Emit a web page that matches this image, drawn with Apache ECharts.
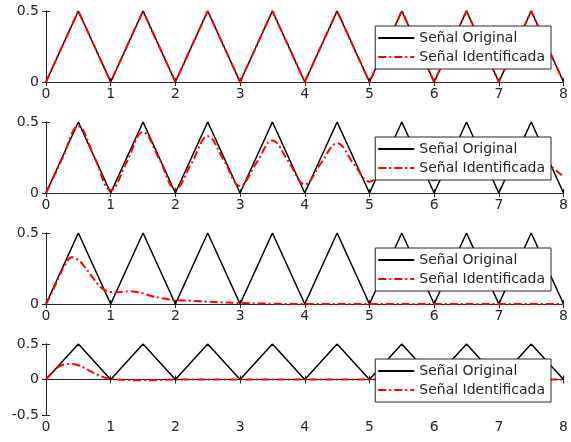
<!DOCTYPE html>
<html>
<head>
<meta charset="utf-8">
<script src="https://cdn.jsdelivr.net/npm/echarts@6/dist/echarts.min.js"></script>
<style>
  html, body { margin: 0; padding: 0; background: #fff; }
  #chart { width: 571px; height: 442px; }
</style>
</head>
<body>
<div id="chart"></div>
<script>
// Original triangular input signal (same in all four panels)
const tOriginal = [0, 0.5, 1, 1.5, 2, 2.5, 3, 3.5, 4, 4.5, 5, 5.5, 6, 6.5, 7, 7.5, 8];
const yOriginal = [0, 0.5, 0, 0.5, 0, 0.5, 0, 0.5, 0, 0.5, 0, 0.5, 0, 0.5, 0, 0.5, 0];

// Identified model responses
const tIdent1 = tOriginal;
const yIdent1 = yOriginal;

const tIdent2 = [0, 0.25, 0.5, 0.75, 1, 1.25, 1.5, 1.75, 2, 2.25, 2.5, 2.75, 3, 3.25, 3.5, 3.75, 4,
                 4.25, 4.5, 4.75, 5, 5.25, 5.5, 5.75, 6, 6.25, 6.5, 6.75, 7, 7.25, 7.5, 7.75, 8];
const yIdent2 = [0, 0.24, 0.47, 0.25, 0.02, 0.22, 0.43, 0.24, 0.03, 0.21, 0.40, 0.23, 0.05, 0.21, 0.37, 0.22, 0.06,
                 0.21, 0.35, 0.21, 0.08, 0.2, 0.33, 0.21, 0.09, 0.2, 0.32, 0.21, 0.10, 0.2, 0.31, 0.21, 0.115];

const tIdent3 = [0, 0.1, 0.2, 0.3, 0.4, 0.5, 0.6, 0.7, 0.8, 0.9, 1.0, 1.1, 1.2, 1.3, 1.4, 1.5, 1.6, 1.8,
                 2.0, 2.25, 2.5, 3.0, 3.5, 4.0, 5, 6, 7, 8];
const yIdent3 = [0, 0.09, 0.19, 0.28, 0.33, 0.31, 0.26, 0.2, 0.14, 0.1, 0.085, 0.083, 0.087, 0.09, 0.085,
                 0.075, 0.06, 0.04, 0.028, 0.022, 0.016, 0.007, 0.002, 0, 0, 0, 0, 0];

const tIdent4 = [0, 0.1, 0.2, 0.3, 0.4, 0.5, 0.6, 0.7, 0.8, 0.9, 1.0, 1.1, 1.25, 1.5, 1.75, 2, 3, 4, 5, 6, 7, 8];
const yIdent4 = [0, 0.1, 0.18, 0.215, 0.22, 0.2, 0.16, 0.11, 0.065, 0.03, 0.01, 0, -0.008, -0.012, -0.008,
                 0, 0, 0, 0, 0, 0, 0];

const xTicks = [0, 1, 2, 3, 4, 5, 6, 7, 8];
const yRanges = [[0, 0.5], [0, 0.5], [0, 0.5], [-0.5, 0.5]];

const idents = [[tIdent1, yIdent1], [tIdent2, yIdent2], [tIdent3, yIdent3], [tIdent4, yIdent4]];

const NAME_ORIG = 'Señal Original';
const NAME_IDENT = 'Señal Identificada';
const AX = '#262626';
const FONT = 'DejaVu Sans';

// legend line samples: a solid bar and a dash-dot bar, 36 x 2
const ICON_SOLID = 'path://M0,0H36V2H0Z';
const ICON_DASHDOT = 'path://M0,0H8V2H0Z M11,0H13V2H11Z M16,0H24V2H16Z M27,0H29V2H27Z M32,0H36V2H32Z';

const gridTops = [11, 122, 233, 344];
const gridH = 71;

const pairs = (t, y) => t.map((v, i) => [v, y[i]]);

const grid = [], xAxis = [], yAxis = [], series = [], legend = [];

gridTops.forEach((top, i) => {
  grid.push({ left: 46, right: 5, top: top, height: gridH });

  const axLine = { show: true, lineStyle: { color: AX, width: 1 } };
  const tick = { show: true, inside: true, length: 4, lineStyle: { color: AX } };
  // bottom axis with labels
  xAxis.push({
    type: 'value', gridIndex: i, min: xTicks[0], max: xTicks[xTicks.length - 1], interval: 1,
    position: 'bottom', axisLine: axLine, axisTick: tick,
    axisLabel: { color: AX, fontFamily: FONT, fontSize: 14, margin: 5 },
    splitLine: { show: false }
  });
  // top box edge
  xAxis.push({
    type: 'value', gridIndex: i, min: xTicks[0], max: xTicks[xTicks.length - 1], interval: 1,
    position: 'top', axisLine: axLine, axisTick: tick,
    axisLabel: { show: false }, splitLine: { show: false }
  });
  const [ymin, ymax] = yRanges[i];
  yAxis.push({
    type: 'value', gridIndex: i, min: ymin, max: ymax, interval: 0.5,
    position: 'left', axisLine: axLine, axisTick: tick,
    axisLabel: { color: AX, fontFamily: FONT, fontSize: 14, margin: 7 },
    splitLine: { show: false }
  });
  yAxis.push({
    type: 'value', gridIndex: i, min: ymin, max: ymax, interval: 0.5,
    position: 'right', axisLine: axLine, axisTick: tick,
    axisLabel: { show: false }, splitLine: { show: false }
  });

  series.push({
    name: NAME_ORIG, type: 'line', xAxisIndex: 2 * i, yAxisIndex: 2 * i,
    data: pairs(tOriginal, yOriginal), symbol: 'none', showSymbol: false,
    lineStyle: { color: '#000', width: 1.5 }, itemStyle: { color: '#000' },
    animation: false, z: 2
  });
  series.push({
    name: NAME_IDENT, type: 'line', xAxisIndex: 2 * i, yAxisIndex: 2 * i,
    data: pairs(idents[i][0], idents[i][1]), symbol: 'none', showSymbol: false,
    smooth: i === 0 ? false : 0.4,
    lineStyle: { color: '#ff0000', width: 2, type: [8, 3, 2, 3] }, itemStyle: { color: '#ff0000' },
    animation: false, z: 3
  });

  legend.push({
    orient: 'vertical', right: 20, top: top + 15,
    data: [
      { name: NAME_ORIG, icon: ICON_SOLID, itemStyle: { color: '#000', borderWidth: 0 } },
      { name: NAME_IDENT, icon: ICON_DASHDOT, itemStyle: { color: '#ff0000', borderWidth: 0 } }
    ],
    backgroundColor: '#fff', borderColor: AX, borderWidth: 1, borderRadius: 0,
    padding: [3, 6, 3, 3], itemGap: 1, itemWidth: 36, itemHeight: 2,
    textStyle: { color: AX, fontFamily: FONT, fontSize: 14, lineHeight: 18 },
    selectedMode: false, z: 10
  });
});

const chart = echarts.init(document.getElementById('chart'), null, { renderer: 'canvas' });
chart.setOption({
  backgroundColor: '#fff',
  animation: false,
  grid, xAxis, yAxis, series, legend
});
</script>
</body>
</html>
